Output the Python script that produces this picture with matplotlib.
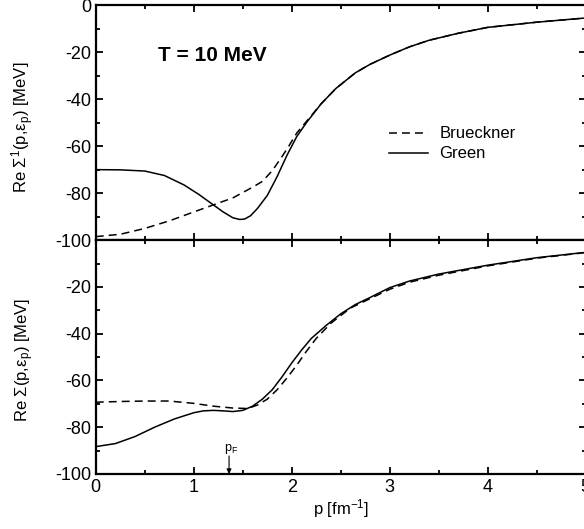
import matplotlib
matplotlib.use("Agg")
import matplotlib.pyplot as plt
from matplotlib.ticker import MultipleLocator

plt.rcParams["font.family"] = ["Liberation Sans", "DejaVu Sans"]
plt.rcParams["mathtext.fontset"] = "custom"
plt.rcParams["mathtext.rm"] = "Liberation Sans"
plt.rcParams["mathtext.default"] = "regular"
plt.rcParams["axes.unicode_minus"] = False

# --- upper panel: Re Sigma^1 ---
top_green_p = [0, 0.25, 0.5, 0.7, 0.9, 1.05, 1.2, 1.3, 1.4, 1.47, 1.52, 1.58, 1.65, 1.75,
               1.85, 1.95, 2.05, 2.15, 2.3, 2.45, 2.65, 2.8, 3.0, 3.2, 3.4, 3.7, 4.0, 4.5, 5.0]
top_green_s = [-70, -70.1, -70.6, -72.5, -76.5, -80.5, -85, -88, -90.5, -91.2, -91, -89.6,
               -86.5, -81, -73, -64, -56, -50, -42, -35.5, -28.8, -25.2, -21.3, -17.8, -15,
               -12, -9.5, -7.3, -5.5]
top_brueck_p = [0, 0.25, 0.5, 0.75, 1.0, 1.2, 1.4, 1.6, 1.7, 1.8, 1.9, 1.97, 2.05, 2.15,
                2.3, 2.45, 2.65, 2.8, 3.0, 3.2, 3.4, 3.7, 4.0, 4.5, 5.0]
top_brueck_s = [-98.5, -97.5, -95, -91.8, -88, -85, -82, -77.5, -75, -70.5, -64.5, -60,
                -54.5, -49.5, -42, -35.5, -28.8, -25.2, -21.3, -17.8, -15, -12, -9.5,
                -7.3, -5.5]

# --- lower panel: Re Sigma ---
bot_green_p = [0, 0.2, 0.4, 0.6, 0.8, 1.0, 1.1, 1.2, 1.3, 1.4, 1.5, 1.6, 1.7, 1.8, 1.9,
               2.0, 2.1, 2.2, 2.35, 2.5, 2.65, 2.8, 3.0, 3.2, 3.5, 4.0, 4.5, 5.0]
bot_green_s = [-88.3, -87, -84, -80, -76.5, -73.8, -73, -72.8, -73, -73.3, -72.8, -71, -68,
               -64, -58.5, -52.5, -47, -42, -36.5, -31.5, -27.5, -24.5, -20.3, -17.5,
               -14.5, -10.7, -7.5, -5.2]
bot_brueck_p = [0, 0.25, 0.5, 0.75, 1.0, 1.2, 1.4, 1.55, 1.65, 1.75, 1.85, 1.95, 2.05,
                2.15, 2.25, 2.4, 2.6, 2.8, 3.0, 3.2, 3.5, 4.0, 4.5, 5.0]
bot_brueck_s = [-69.3, -69, -68.8, -68.8, -69.8, -71, -71.8, -72, -70.5, -68, -64, -59,
                -53.5, -47.5, -42, -35.5, -29, -25, -21, -18, -15, -11, -7.7, -5.3]

p_fermi = 1.36

fig = plt.figure(figsize=(5.84, 5.29), dpi=100)
ax1 = fig.add_axes([0.164, 0.546, 0.839, 0.4445])
ax2 = fig.add_axes([0.164, 0.104, 0.839, 0.442])

dash = (0, (5.2, 3.3))
for ax in (ax1, ax2):
    ax.set_xlim(0, 5)
    ax.set_ylim(-100, 0)
    ax.xaxis.set_major_locator(MultipleLocator(1))
    ax.xaxis.set_minor_locator(MultipleLocator(0.5))
    ax.yaxis.set_minor_locator(MultipleLocator(10))
    ax.tick_params(which="both", direction="in", top=True, right=True, labelsize=13, width=1.3)
    ax.tick_params(which="major", length=5)
    ax.tick_params(which="minor", length=3)
    for sp in ax.spines.values():
        sp.set_linewidth(1.6)

ax1.plot(top_brueck_p, top_brueck_s, color="black", lw=1.1, linestyle=dash, label="Brueckner")
ax1.plot(top_green_p, top_green_s, color="black", lw=1.1, label="Green")
ax1.set_yticks(range(-100, 1, 20))
ax1.tick_params(labelbottom=False)
ax1.set_ylabel(r"Re $\Sigma^1$(p,$ε_p$) [MeV]", fontsize=12)
ax1.yaxis.set_label_coords(-0.122, 0.48)
ax1.text(0.237, 0.787, "T = 10 MeV", transform=ax1.transAxes, fontsize=15,
         fontweight="bold", ha="center", va="center")
ax1.legend(loc="center left", bbox_to_anchor=(0.598, 0.409), frameon=False, fontsize=12,
           handlelength=2.35, handletextpad=0.7, labelspacing=0.3, borderpad=0,
           borderaxespad=0)

ax2.plot(bot_brueck_p, bot_brueck_s, color="black", lw=1.1, linestyle=dash)
ax2.plot(bot_green_p, bot_green_s, color="black", lw=1.1)
ax2.set_yticks(range(-100, 0, 20))
ax2.set_ylabel(r"Re $\Sigma$(p,$ε_p$) [MeV]", fontsize=12)
ax2.yaxis.set_label_coords(-0.122, 0.49)
ax2.set_xlabel(r"p [fm$^{-1}$]", fontsize=12, labelpad=1)
ax2.annotate("", xy=(p_fermi, -100), xytext=(p_fermi, -92.3),
             arrowprops=dict(arrowstyle="-|>", color="black", lw=0.8,
                             mutation_scale=7, shrinkA=0, shrinkB=0))
ax2.text(p_fermi + 0.02, -92.3, r"p$_F$", ha="center", va="bottom", fontsize=9)

fig.savefig("out.png", dpi=100)
